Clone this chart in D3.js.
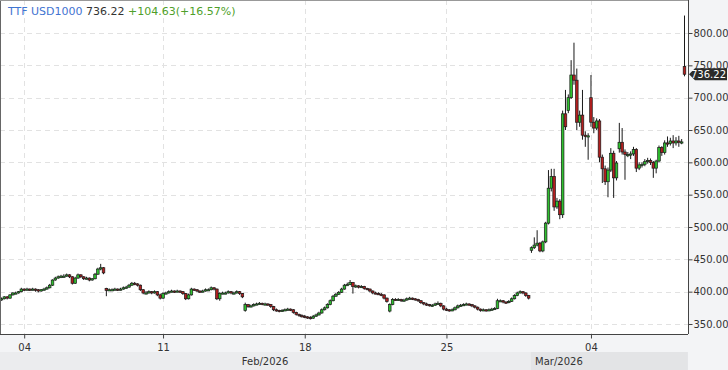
<!DOCTYPE html>
<html><head><meta charset="utf-8">
<script src="https://cdn.jsdelivr.net/npm/d3@7"></script>
<style>
html,body{margin:0;padding:0;background:#f3f4f6;}
svg{display:block;}
</style></head>
<body>
<svg id="chart" width="728" height="370"></svg>
<script>
// ---- data (hourly candles, index 0..241) ----
const opens = [388,389,392,390,395,398,398,400,404,403,404,403,404,403,401,403,404,406,410,418,421,423,424,424,426,423,413,421,426,423,420,421,418,420,427,435,437,
405,402,403,403,404,403,404,406,407,410,413,412,410,403,398,398,400,398,400,395,390,397,398,400,401,400,401,400,397,389,395,404,403,401,400,401,403,403,406,404,389,397,398,398,400,398,398,400,397,
371,380,377,378,380,381,382,381,381,380,377,372,371,370,371,372,373,372,368,365,363,362,361,360,359,362,364,367,372,375,380,386,393,396,399,404,410,411,414,408,409,407,408,405,404,401,398,397,396,395,390,
370,380,388,387,388,386,387,389,390,389,388,386,383,381,380,379,379,381,382,378,373,372,371,372,375,378,379,380,381,380,378,376,373,371,372,371,372,373,374,386,386,384,383,385,389,394,398,400,398,394,
464,468,472,475,463,477,506,560,578,531,540,519,675,680,700,735,727,662,673,642,640,
700,662,653,664,608,590,570,588,614,576,
621,631,616,612,612,613,620,591,596,597,601,603,600,591,602,623,615,630,629,633,630,633,631,
748];
const highs = [391,393,393,396,399,400,401,406,405,406,405,406,405,404,404,406,408,412,419,423,425,426,427,428,427,424,423,428,427,424,423,422,421,429,437,443,438,
406,405,405,406,405,406,408,409,412,415,415,413,411,404,401,402,401,402,401,397,399,400,402,403,402,403,402,401,398,397,406,405,404,402,403,405,405,408,407,405,399,400,400,402,401,400,402,401,398,
383,381,380,382,383,384,383,383,382,381,378,374,372,373,374,375,374,373,369,366,365,364,362,362,364,366,369,374,377,382,388,395,398,401,406,412,414,418,415,411,410,410,409,406,405,402,400,399,398,396,391,
382,390,390,390,389,389,391,392,391,390,389,387,384,383,381,381,383,385,383,379,375,373,374,377,380,381,382,383,382,381,379,377,374,374,373,374,375,376,389,388,387,385,387,391,396,400,402,401,399,395,
470,484,495,477,479,508,588,590,590,545,543,680,712,705,758,785,745,680,712,648,645,
735,670,668,667,612,595,592,622,618,602,
661,653,620,616,617,624,622,600,600,605,607,606,602,604,626,625,634,640,638,642,639,641,636,
827];
const lows = [386,388,388,389,394,396,397,399,401,402,401,402,400,399,400,402,403,405,409,417,420,421,422,423,421,411,412,420,421,418,419,416,417,419,426,433,427,
393,401,401,402,401,402,403,405,406,409,410,408,401,396,397,397,396,397,393,388,389,396,397,399,398,399,398,395,387,388,394,401,399,398,399,400,401,402,402,387,386,396,396,397,396,396,397,395,390,
369,375,376,377,379,380,379,379,378,375,370,369,368,369,370,371,370,366,363,361,360,359,358,357,358,361,363,366,371,374,379,385,392,395,398,403,409,410,397,406,405,406,403,402,399,396,396,395,393,388,383,
368,379,386,386,384,385,386,388,387,386,384,381,379,378,377,377,378,380,376,371,370,369,370,371,374,377,378,379,378,376,374,371,369,370,369,370,371,372,373,384,382,381,382,384,388,393,397,396,392,388,
460,466,470,461,461,475,504,555,525,528,512,514,650,676,698,720,650,655,635,624,604,
655,645,650,600,568,565,546,585,545,572,
615,612,573,608,605,610,585,588,592,594,598,596,576,583,600,610,612,624,626,622,626,624,628,
733];
const closes = [389,392,390,395,398,398,400,404,403,404,403,404,403,401,403,404,406,410,418,421,423,424,424,426,423,413,421,426,423,420,421,418,420,427,435,437,429,
402,403,403,404,403,404,406,407,410,413,412,410,403,398,398,400,398,400,395,390,397,398,400,401,400,401,400,397,389,395,404,403,401,400,401,403,403,406,404,389,397,398,398,400,398,398,400,397,392,
380,377,378,380,381,382,381,381,380,377,372,371,370,371,372,373,372,368,365,363,362,361,360,359,362,364,367,372,375,380,386,393,396,399,404,410,411,414,408,409,407,408,405,404,401,398,397,396,395,390,385,
380,388,387,388,386,387,389,390,389,388,386,383,381,380,379,379,381,382,378,373,372,371,372,375,378,379,380,381,380,378,376,373,371,372,371,372,373,374,386,386,384,383,385,389,394,398,400,398,394,390,
468,472,475,463,477,506,560,578,531,540,519,675,655,700,735,727,662,673,642,640,641,
662,653,664,608,590,570,588,614,576,599,
631,616,612,612,613,620,591,596,597,601,603,600,591,602,623,615,630,629,633,630,633,631,631.59,
736.22];

const yTicks = [350,400,450,500,550,600,650,700,750,800];
const xTickIdx = [8,57,107,157,208];
const xTickLabels = ["04","11","18","25","04"];
const monthLabels = ["Feb/2026","Mar/2026"];
const monthStartIdx = [-0.53,186.8];
const monthEndIdx = [186.8,242.2];
const monthLabelIdx = [93,196.7];
const symbol = "TTF USD1000";
const lastPrice = 736.22;
const change = "+104.63(+16.57%)";

// ---- layout ----
const W = 728, H = 370;
const plotL = 0, plotR = 688, plotT = 0, plotB = 334;
const svg = d3.select("#chart");
const font = "DejaVu Sans, sans-serif";

const x = d3.scaleLinear().domain([0, closes.length - 1]).range([1.5, 684.5]);
const y = d3.scaleLinear().domain([350, 800]).range([324, 33]);

// backgrounds
svg.append("rect").attr("x",0).attr("y",0).attr("width",W).attr("height",H).attr("fill","#f3f4f6");
svg.append("rect").attr("x",plotL).attr("y",plotT).attr("width",plotR-plotL).attr("height",plotB-plotT).attr("fill","#ffffff");

// month bands
const bandCol = ["#ebecee","#e3e4e6"];
monthLabels.forEach((m,i)=>{
  const x0 = Math.max(plotL, x(monthStartIdx[i])), x1 = Math.min(plotR, x(monthEndIdx[i]));
  svg.append("rect").attr("x",x0).attr("y",352).attr("width",x1-x0).attr("height",18).attr("fill",bandCol[i]);
  svg.append("text").attr("x",x(monthLabelIdx[i])).attr("y",365).attr("text-anchor","middle")
    .attr("font-family",font).attr("font-size",10).attr("fill","#333").text(m);
});

// grid
const grid = svg.append("g");
yTicks.forEach(t=>{
  grid.append("line").attr("x1",plotL).attr("x2",plotR).attr("y1",Math.round(y(t))+0.5).attr("y2",Math.round(y(t))+0.5)
    .attr("stroke","#e2e2e2").attr("stroke-dasharray","5,4");
});
xTickIdx.forEach(t=>{
  grid.append("line").attr("y1",plotT).attr("y2",plotB).attr("x1",Math.round(x(t))+0.5).attr("x2",Math.round(x(t))+0.5)
    .attr("stroke","#e2e2e2").attr("stroke-dasharray","5,4");
});

// candles
const idx = d3.range(closes.length);
const cg = svg.append("g");
cg.selectAll("line.wick").data(idx).join("line")
  .attr("x1",i=>x(i)).attr("x2",i=>x(i))
  .attr("y1",i=>y(highs[i])).attr("y2",i=>y(lows[i]))
  .attr("stroke","#1a1a1a").attr("stroke-width",1);
cg.selectAll("rect.body").data(idx).join("rect")
  .attr("x",i=>x(i)-1.3).attr("width",2.6)
  .attr("y",i=>y(Math.max(opens[i],closes[i])))
  .attr("height",i=>Math.max(1.2,Math.abs(y(opens[i])-y(closes[i]))))
  .attr("fill",i=>closes[i]>=opens[i]?"#2fc02f":"#b31f1f")
  .attr("stroke","#1a1a1a").attr("stroke-width",0.7);

// plot frame
svg.append("line").attr("x1",0.5).attr("x2",0.5).attr("y1",0).attr("y2",plotB).attr("stroke","#666");
svg.append("line").attr("x1",0).attr("x2",plotR).attr("y1",0.5).attr("y2",0.5).attr("stroke","#999");

// right axis
const ya = svg.append("g").attr("transform",`translate(${plotR+0.5},0)`)
  .call(d3.axisRight(y).tickValues(yTicks).tickFormat(d3.format(".2f")).tickSize(4).tickPadding(1));
ya.select(".domain").attr("stroke","#444").attr("d",`M0,0V${plotB}`);
ya.selectAll(".tick line").attr("stroke","#444");
ya.selectAll("text").attr("font-family",font).attr("font-size",10).attr("fill","#333");

// bottom axis
const xa = svg.append("g").attr("transform",`translate(0,${plotB+0.5})`)
  .call(d3.axisBottom(x).tickValues(xTickIdx).tickFormat((d,i)=>xTickLabels[i]).tickSize(4).tickPadding(5));
xa.select(".domain").attr("stroke","#444").attr("d",`M0,0H${plotR}`);
xa.selectAll(".tick line").attr("stroke","#444");
xa.selectAll("text").attr("font-family",font).attr("font-size",10).attr("fill","#333");

// last price tag
const ty = y(lastPrice);
svg.append("path").attr("d",`M${plotR+1},${ty} L${plotR+7},${ty-6} H${W-1} V${ty+6} H${plotR+7} Z`).attr("fill","#2b2b2b");
svg.append("text").attr("x",W-2).attr("y",ty+4).attr("text-anchor","end")
  .attr("font-family",font).attr("font-size",10).attr("fill","#fff").text(lastPrice.toFixed(2));

// title
const tt = svg.append("text").attr("x",8).attr("y",15).attr("font-family",font).attr("font-size",11);
tt.append("tspan").attr("fill","#3f74d1").text(symbol + " ");
tt.append("tspan").attr("fill","#333").text(lastPrice.toFixed(2) + " ");
tt.append("tspan").attr("fill","#4f9f2a").text(change);
</script>
</body></html>
